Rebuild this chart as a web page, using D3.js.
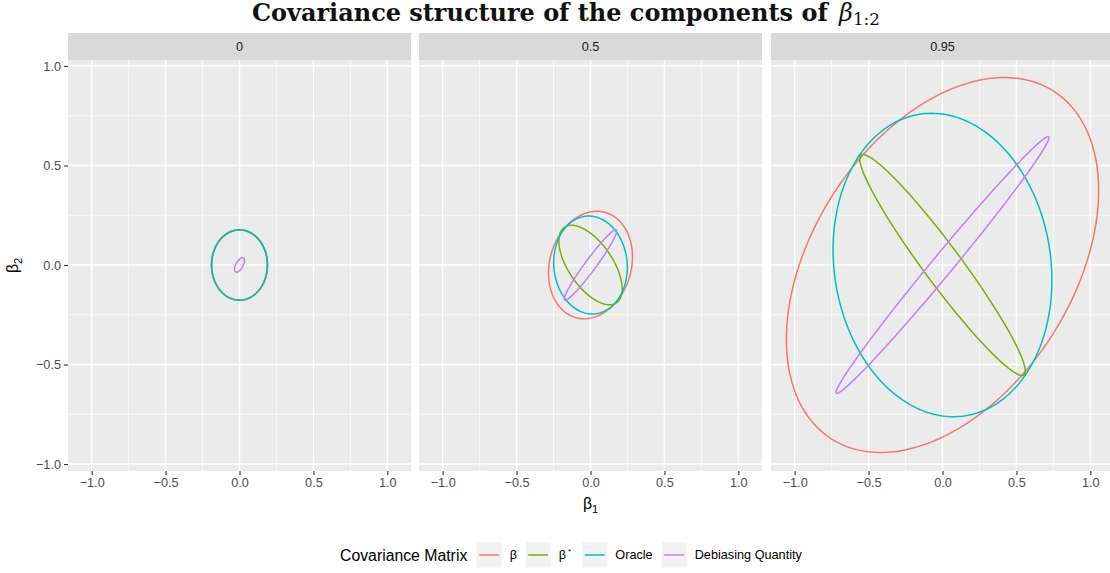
<!DOCTYPE html>
<html>
<head>
<meta charset="utf-8">
<script src="https://cdn.jsdelivr.net/npm/d3@7"></script>
<style>
  html, body { margin: 0; padding: 0; background: #ffffff; }
  svg { display: block; }
</style>
</head>
<body>
<svg id="chart" width="1110" height="573"></svg>
<script>
// ---------------- data ----------------
const panels = ["0", "0.5", "0.95"];
const seriesNames = ["β", "β*", "Oracle", "Debiasing Quantity"];
const seriesColors = ["#F8766D", "#7CAE00", "#00BFC4", "#C77CFF"];
// standard deviations (ellipse half-extent) along beta_1, per panel, per series
const sdBeta1 = [
  [0.190, 0.188, 0.189, 0.034],
  [0.284, 0.214, 0.249, 0.177],
  [1.056, 0.560, 0.740, 0.720]
];
// standard deviations along beta_2
const sdBeta2 = [
  [0.177, 0.176, 0.177, 0.036],
  [0.270, 0.200, 0.246, 0.177],
  [0.942, 0.555, 0.762, 0.645]
];
// correlations
const corr = [
  [0.00, 0.00, 0.00, 0.60],
  [0.15, -0.60, -0.05, 0.965],
  [0.397, -0.96, -0.10, 0.992]
];
const majorTicks = [-1.0, -0.5, 0.0, 0.5, 1.0];
const minorTicks = [-0.75, -0.25, 0.25, 0.75];
const tickLabels = ["\u22121.0", "\u22120.5", "0.0", "0.5", "1.0"];

// ---------------- layout ----------------
const svg = d3.select("#chart");
const sans = "'Liberation Sans', Arial, Helvetica, sans-serif";
const panelTop = 60, panelBottom = 471, stripTop = 33;
const panelLefts = [68, 419, 771];
const panelW = 343;

const y = d3.scaleLinear().domain([-1.035, 1.03]).range([panelBottom, panelTop]);

panels.forEach((p, pi) => {
  const x0 = panelLefts[pi];
  const x = d3.scaleLinear().domain([-1.16, 1.16]).range([x0, x0 + panelW]);
  const g = svg.append("g");

  // strip
  g.append("rect").attr("x", x0).attr("y", stripTop).attr("width", panelW)
    .attr("height", panelTop - stripTop).attr("fill", "#d9d9d9");
  g.append("text").attr("x", x0 + panelW / 2).attr("y", (stripTop + panelTop) / 2)
    .attr("dy", "0.35em").attr("text-anchor", "middle")
    .attr("font-family", sans).attr("font-size", 12.7).attr("fill", "#1a1a1a").text(p);

  // panel background
  g.append("rect").attr("x", x0).attr("y", panelTop).attr("width", panelW)
    .attr("height", panelBottom - panelTop).attr("fill", "#ebebeb");

  // grid
  minorTicks.forEach(t => {
    g.append("line").attr("x1", x(t)).attr("x2", x(t)).attr("y1", panelTop).attr("y2", panelBottom)
      .attr("stroke", "#fff").attr("stroke-width", 0.7);
    g.append("line").attr("x1", x0).attr("x2", x0 + panelW).attr("y1", y(t)).attr("y2", y(t))
      .attr("stroke", "#fff").attr("stroke-width", 0.7);
  });
  majorTicks.forEach(t => {
    g.append("line").attr("x1", x(t)).attr("x2", x(t)).attr("y1", panelTop).attr("y2", panelBottom)
      .attr("stroke", "#fff").attr("stroke-width", 1.4);
    g.append("line").attr("x1", x0).attr("x2", x0 + panelW).attr("y1", y(t)).attr("y2", y(t))
      .attr("stroke", "#fff").attr("stroke-width", 1.4);
  });

  // x axis
  const xAxis = d3.axisBottom(x).tickValues(majorTicks).tickSize(4).tickPadding(3)
    .tickFormat((d, i) => tickLabels[i]);
  const xa = g.append("g").attr("transform", `translate(0,${panelBottom})`).call(xAxis);
  xa.select(".domain").remove();
  xa.selectAll(".tick line").attr("stroke", "#333333").attr("stroke-width", 1.1);
  xa.selectAll(".tick text").attr("font-family", sans).attr("font-size", 12.7).attr("fill", "#4d4d4d");

  // ellipses
  const line = d3.line().x(d => x(d[0])).y(d => y(d[1]));
  seriesNames.forEach((s, si) => {
    const s1 = sdBeta1[pi][si], s2 = sdBeta2[pi][si], r = corr[pi][si];
    const n = 240;
    const pts = d3.range(n + 1).map(k => {
      const t = 2 * Math.PI * k / n;
      return [s1 * Math.cos(t), s2 * (r * Math.cos(t) + Math.sqrt(1 - r * r) * Math.sin(t))];
    });
    g.append("path").attr("d", line(pts)).attr("fill", "none")
      .attr("stroke", seriesColors[si]).attr("stroke-width", 1.5);
  });
});

// y axis (left panel only)
const yAxis = d3.axisLeft(y).tickValues(majorTicks).tickSize(4).tickPadding(3)
  .tickFormat((d, i) => tickLabels[i]);
const ya = svg.append("g").attr("transform", `translate(${panelLefts[0]},0)`).call(yAxis);
ya.select(".domain").remove();
ya.selectAll(".tick line").attr("stroke", "#333333").attr("stroke-width", 1.1);
ya.selectAll(".tick text").attr("font-family", sans).attr("font-size", 12.7).attr("fill", "#4d4d4d");

// axis titles
const xt = svg.append("text").attr("x", panelLefts[1] + panelW / 2).attr("y", 509)
  .attr("text-anchor", "middle").attr("font-family", sans).attr("font-size", 15.8).attr("fill", "#000");
xt.append("tspan").text("β");
xt.append("tspan").attr("font-size", 11).attr("dy", 4).text("1");

const yt = svg.append("text").attr("transform", `translate(18,${(panelTop + panelBottom) / 2}) rotate(-90)`)
  .attr("text-anchor", "middle").attr("font-family", sans).attr("font-size", 15.8).attr("fill", "#000");
yt.append("tspan").text("β");
yt.append("tspan").attr("font-size", 11).attr("dy", 4).text("2");

// title
const title = svg.append("text").attr("y", 21).attr("font-family", "'DejaVu Serif', serif")
  .attr("font-weight", "bold").attr("font-size", 20).attr("fill", "#111");
const tMain = title.append("tspan").text("Covariance structure of the components of ");
const mainW = tMain.node().getComputedTextLength();
const fs = 20 * 576 / mainW;
title.attr("font-size", fs);
title.append("tspan").attr("font-weight", "normal").attr("font-style", "italic")
  .attr("font-family", "'DejaVu Serif', serif").attr("dx", 3).text("β");
title.append("tspan").attr("font-weight", "normal").attr("font-size", fs * 0.7)
  .attr("dy", 4).text("1:2");
title.attr("x", 252);

// legend
const legY = 555;
svg.append("text").attr("x", 340).attr("y", legY).attr("dy", "0.35em")
  .attr("font-family", sans).attr("font-size", 15.8).attr("fill", "#000").text("Covariance Matrix");
const keyX = [476.7, 525.7, 582.3, 661.7];
seriesNames.forEach((s, si) => {
  const kx = keyX[si];
  svg.append("rect").attr("x", kx).attr("y", legY - 12.5).attr("width", 25).attr("height", 25)
    .attr("fill", "#f2f2f2");
  svg.append("line").attr("x1", kx + 2.5).attr("x2", kx + 22.5).attr("y1", legY).attr("y2", legY)
    .attr("stroke", seriesColors[si]).attr("stroke-width", 1.5);
  const lt = svg.append("text").attr("x", kx + 33).attr("y", legY).attr("dy", "0.35em")
    .attr("font-family", sans).attr("font-size", 12.7).attr("fill", "#000");
  if (s === "β*") {
    lt.append("tspan").text("β");
    lt.append("tspan").attr("font-size", 8).attr("dy", -5).attr("dx", 2).text("*");
  } else {
    lt.text(s);
  }
});
</script>
</body>
</html>
